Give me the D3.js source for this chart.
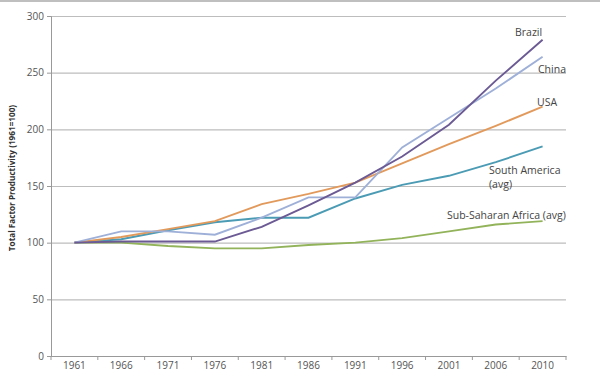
<!DOCTYPE html>
<html lang="en">
<head>
  <meta charset="UTF-8">
  <title>Total Factor Productivity</title>
  <script src="https://d3js.org/d3.v7.min.js"></script>
  <style>
    body { margin: 0; background: #fff; }
    svg text { font-family: "Open Sans", sans-serif; }
  </style>
</head>
<body>
  <svg id="tfp" width="600" height="390"></svg>
  <script>
    // data
    const years = ['1961', '1966', '1971', '1976', '1981', '1986', '1991', '1996', '2001', '2006', '2010'];
    const brazil = [100, 101, 101, 101, 114, 133, 153, 176, 204, 243, 279];
    const china = [100, 110, 110, 107, 122, 140, 140, 184, 210, 236, 264];
    const usa = [100, 105, 112, 119, 134, 143, 153, 170, 187, 203, 220];
    const southAmerica = [100, 103, 111, 118, 122, 122, 139, 151, 159, 171, 185];
    const subSaharan = [100, 100, 97, 95, 95, 98, 100, 104, 110, 116, 119];
    const yTicks = [0, 50, 100, 150, 200, 250, 300];

    const series = [
      { name: 'Sub-Saharan', values: subSaharan, color: '#92b35a' },
      { name: 'South America', values: southAmerica, color: '#4b9bb5' },
      { name: 'USA', values: usa, color: '#e29a5c' },
      { name: 'China', values: china, color: '#9fb0d8' },
      { name: 'Brazil', values: brazil, color: '#6b5a94' }
    ];

    const svg = d3.select('svg#tfp');
    const margin = { top: 16, right: 34, bottom: 34, left: 51 };
    const chartWidth = 600 - margin.left - margin.right;
    const chartHeight = 390 - margin.top - margin.bottom;

    const xScale = d3.scaleBand().domain(years).range([0, chartWidth]);
    const yScale = d3.scaleLinear().domain([0, 300]).range([chartHeight, 0]);

    // frame line at the very top
    svg.append('line')
      .attr('x1', 0).attr('x2', 600)
      .attr('y1', 1).attr('y2', 1)
      .attr('stroke', '#aaa').attr('stroke-width', 1.5);

    let chartArea = svg.append('g')
      .attr('transform', 'translate(' + margin.left + ',' + margin.top + ')');

    // gridlines
    chartArea.append('g')
      .attr('class', 'y-gridlines')
      .call(d3.axisLeft(yScale).tickValues(yTicks).tickSize(-chartWidth).tickFormat(''))
      .call(g => g.select('.domain').remove())
      .call(g => g.selectAll('line').attr('stroke', '#bdbdbd').attr('stroke-width', 1.2));

    // y axis
    chartArea.append('g')
      .attr('class', 'y-axis')
      .call(d3.axisLeft(yScale).tickValues(yTicks).tickSize(4).tickPadding(3))
      .call(g => g.select('.domain').attr('stroke', '#999'))
      .call(g => g.selectAll('.tick line').attr('stroke', '#999'))
      .call(g => g.selectAll('text').attr('fill', '#555').style('font-size', '10px'));

    // x axis, ticks on category boundaries
    const xAxisG = chartArea.append('g')
      .attr('class', 'x-axis')
      .attr('transform', 'translate(0,' + chartHeight + ')')
      .call(d3.axisBottom(xScale).tickSize(0).tickPadding(6))
      .call(g => g.select('.domain').attr('stroke', '#999'))
      .call(g => g.selectAll('text').attr('fill', '#555').style('font-size', '10px'));

    xAxisG.selectAll('line.boundary')
      .data(d3.range(years.length + 1))
      .join('line')
      .attr('class', 'boundary')
      .attr('x1', i => i * xScale.step()).attr('x2', i => i * xScale.step())
      .attr('y1', 0).attr('y2', 4)
      .attr('stroke', '#999');

    // lines
    const line = d3.line()
      .x((d, i) => xScale(years[i]) + xScale.bandwidth() / 2)
      .y(d => yScale(d));

    chartArea.selectAll('path.series')
      .data(series)
      .join('path')
      .attr('class', 'series')
      .attr('d', d => line(d.values))
      .attr('fill', 'none')
      .attr('stroke', d => d.color)
      .attr('stroke-width', 1.9);

    // line labels
    const labels = [
      { lines: ['Brazil'], x: 515, y: 36 },
      { lines: ['China'], x: 538, y: 73 },
      { lines: ['USA'], x: 537, y: 106 },
      { lines: ['South America', '(avg)'], x: 489, y: 174 },
      { lines: ['Sub-Saharan Africa (avg)'], x: 447, y: 219 }
    ];
    labels.forEach(l => {
      const t = svg.append('text')
        .attr('x', l.x).attr('y', l.y)
        .attr('fill', '#444')
        .style('font-size', '10.5px');
      l.lines.forEach((s, i) => {
        t.append('tspan').attr('x', l.x).attr('dy', i === 0 ? 0 : 14).text(s);
      });
    });

    // y axis title
    svg.append('text')
      .attr('transform', 'translate(15,' + 178 + ') rotate(-90)')
      .style('text-anchor', 'middle')
      .style('font-weight', 'bold')
      .style('font-size', '8.2px')
      .attr('fill', '#333')
      .text('Total Factor Productivity (1961=100)');
  </script>
</body>
</html>
